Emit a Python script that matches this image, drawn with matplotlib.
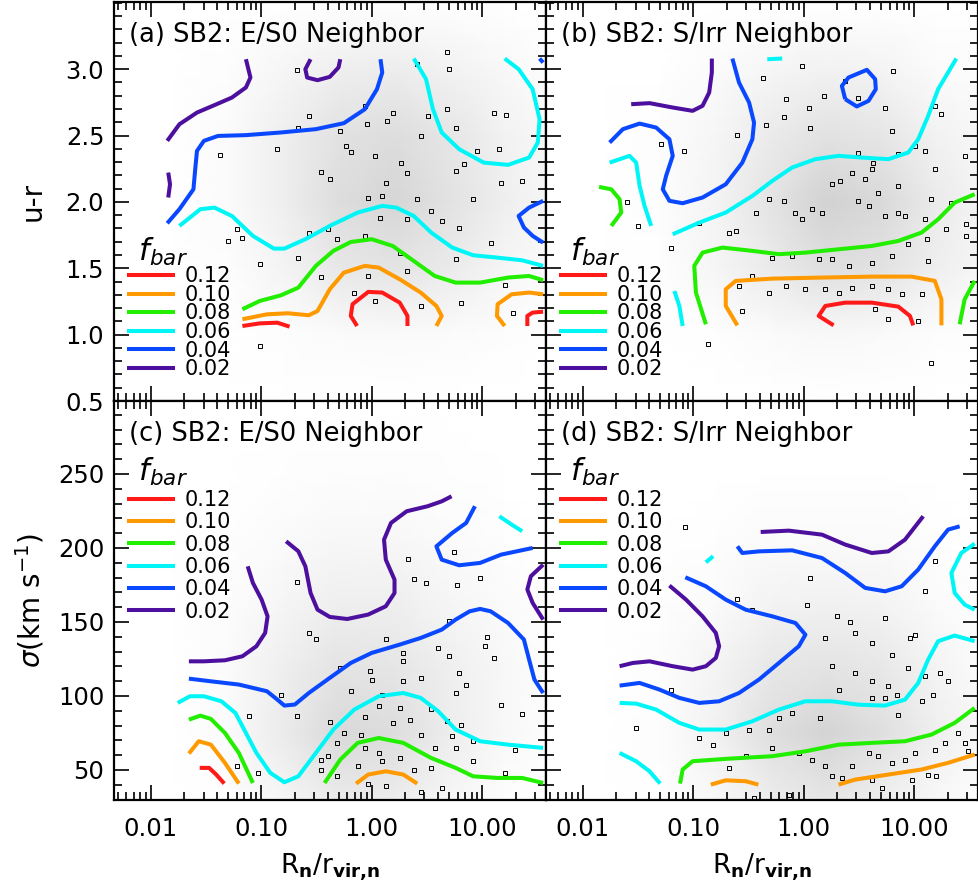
import numpy as np
import matplotlib.pyplot as plt
from matplotlib.colors import LinearSegmentedColormap
from matplotlib.lines import Line2D
from matplotlib.ticker import FixedLocator, MultipleLocator, LogLocator, NullFormatter, FuncFormatter

plt.rcParams['font.family'] = 'DejaVu Sans'
plt.rcParams['mathtext.fontset'] = 'dejavusans'

# contour levels of the bar fraction
levels = [0.12, 0.10, 0.08, 0.06, 0.04, 0.02]
level_colors = ['#ff1a1a', '#ff9900', '#22ee00', '#00f6f6', '#0a48ff', '#4d0f9e']

titles = ['(a) SB2: E/S0 Neighbor', '(b) SB2: S/Irr Neighbor',
          '(c) SB2: E/S0 Neighbor', '(d) SB2: S/Irr Neighbor']

# contour lines: (level, log10(Rn/rvir,n), y)
cont_a = [
    (0.02, [-1.851, -1.741, -1.582, -1.424, -1.266, -1.139, -1.098, -1.139],
           [2.460, 2.585, 2.673, 2.729, 2.786, 2.862, 2.937, 3.075]),
    (0.02, [-1.842, -1.826, -1.842], [2.221, 2.133, 2.033]),
    (0.02, [-0.554, -0.601, -0.585, -0.491, -0.380, -0.301, -0.285],
           [3.075, 3.000, 2.937, 2.917, 2.942, 3.013, 3.075]),
    (0.04, [-1.851, -1.741, -1.614, -1.598, -1.582, -1.519, -1.392, -1.139, -0.823,
            -0.506, -0.253, -0.063, 0.047, 0.095, 0.079],
           [1.839, 1.945, 2.095, 2.246, 2.384, 2.460, 2.497, 2.503, 2.523,
            2.548, 2.593, 2.698, 2.849, 2.975, 3.075]),
    (0.04, [1.551, 1.424, 1.329, 1.377, 1.456, 1.551],
           [2.008, 1.957, 1.894, 1.807, 1.744, 1.693]),
    (0.04, [1.519, 1.551], [3.080, 3.050]),
    (0.06, [-1.741, -1.551, -1.424, -1.266, -1.076, -0.886, -0.791, -0.601, -0.380, -0.127,
            0.095, 0.222, 0.380, 0.538, 0.728, 0.918, 1.139, 1.361, 1.551],
           [1.819, 1.945, 1.957, 1.894, 1.744, 1.648, 1.648, 1.719, 1.819, 1.920,
            1.970, 1.957, 1.894, 1.769, 1.656, 1.598, 1.580, 1.560, 1.518]),
    (0.06, [0.380, 0.491, 0.554, 0.633, 0.791, 1.013, 1.234, 1.424, 1.503, 1.519, 1.456, 1.329, 1.203],
           [3.080, 2.925, 2.698, 2.523, 2.397, 2.296, 2.279, 2.334, 2.447, 2.623, 2.849, 3.000, 3.080]),
    (0.08, [-1.171, -1.013, -0.823, -0.665, -0.506, -0.348, -0.190, 0.000, 0.190, 0.380,
            0.570, 0.759, 0.981, 1.234, 1.424, 1.551],
           [1.191, 1.254, 1.296, 1.354, 1.518, 1.631, 1.698, 1.719, 1.668, 1.555,
            1.442, 1.392, 1.392, 1.430, 1.442, 1.410]),
    (0.10, [-1.171, -0.949, -0.759, -0.570, -0.491, -0.380, -0.253, -0.063, 0.063, 0.253,
            0.443, 0.585, 0.633, 0.585],
           [1.116, 1.153, 1.161, 1.146, 1.178, 1.342, 1.467, 1.518, 1.505, 1.417,
            1.317, 1.216, 1.141, 1.065]),
    (0.10, [1.203, 1.133, 1.139, 1.266, 1.424, 1.551],
           [1.065, 1.141, 1.229, 1.304, 1.317, 1.304]),
    (0.12, [-1.171, -1.013, -0.854, -0.744], [1.065, 1.085, 1.090, 1.060]),
    (0.12, [-0.133, -0.190, -0.174, -0.032, 0.095, 0.253, 0.323, 0.323],
           [1.065, 1.141, 1.229, 1.322, 1.317, 1.241, 1.141, 1.065]),
    (0.12, [1.408, 1.408, 1.456, 1.551], [1.065, 1.141, 1.166, 1.173]),
]

cont_b = [
    (0.02, [-1.562, -1.396, -1.186, -1.006, -0.916, -0.856, -0.832, -0.832],
           [2.736, 2.744, 2.711, 2.686, 2.724, 2.824, 2.975, 3.080]),
    (0.04, [-1.757, -1.637, -1.486, -1.336, -1.216, -1.186, -1.246, -1.276, -1.216, -1.096,
            -0.916, -0.706, -0.556, -0.465, -0.450, -0.495, -0.586, -0.646],
           [2.447, 2.548, 2.590, 2.560, 2.472, 2.347, 2.196, 2.095, 2.008, 1.990,
            2.033, 2.133, 2.296, 2.472, 2.598, 2.749, 2.899, 3.080]),
    (0.04, [0.375, 0.345, 0.405, 0.571, 0.646, 0.652, 0.586, 0.480, 0.375],
           [2.774, 2.874, 2.937, 2.995, 2.925, 2.849, 2.761, 2.719, 2.774]),
    (0.06, [-0.330, -0.195], [3.075, 3.080]),
    (0.06, [-1.757, -1.577, -1.517, -1.486, -1.441, -1.381],
           [2.296, 2.347, 2.296, 2.121, 1.970, 1.819]),
    (0.06, [-1.186, -0.946, -0.706, -0.465, -0.285, -0.105, 0.105, 0.315, 0.526, 0.766,
            0.946, 1.036, 1.126, 1.216, 1.381],
           [1.756, 1.844, 1.920, 2.045, 2.158, 2.259, 2.322, 2.347, 2.334, 2.322,
            2.372, 2.472, 2.648, 2.849, 3.080]),
    (0.06, [-1.171, -1.126, -1.096], [1.329, 1.216, 1.065]),
    (0.08, [-1.853, -1.742, -1.667, -1.652, -1.742], [2.113, 2.095, 2.020, 1.920, 1.819]),
    (0.08, [-0.886, -0.976, -0.991, -0.916, -0.736, -0.465, -0.225, 0.015, 0.315, 0.616,
            0.856, 1.066, 1.216, 1.366, 1.547],
           [1.078, 1.317, 1.518, 1.618, 1.656, 1.631, 1.606, 1.618, 1.643, 1.668,
            1.706, 1.769, 1.869, 1.995, 2.058]),
    (0.08, [1.411, 1.456, 1.547], [1.078, 1.266, 1.405]),
    (0.10, [-0.601, -0.706, -0.706, -0.616, -0.285, 0.165, 0.616, 0.976, 1.186, 1.246, 1.246],
           [1.070, 1.216, 1.342, 1.405, 1.422, 1.430, 1.437, 1.437, 1.405, 1.266, 1.070]),
    (0.12, [0.270, 0.135, 0.195, 0.375, 0.616, 0.856, 0.961, 0.991],
           [1.070, 1.141, 1.216, 1.241, 1.241, 1.211, 1.141, 1.070]),
]

cont_c = [
    (0.02, [-1.123, -1.076, -0.997, -0.943, -0.965, -1.044, -1.171, -1.329, -1.519, -1.655],
           [187.6, 176.4, 165.1, 153.8, 142.6, 133.6, 126.8, 124.1, 123.4, 123.4]),
    (0.02, [-0.775, -0.665, -0.601, -0.554, -0.491, -0.380, -0.222, -0.032, 0.127, 0.206,
            0.206, 0.127, 0.111, 0.174, 0.316, 0.506, 0.633, 0.722],
           [204.5, 197.8, 187.6, 169.6, 158.3, 153.4, 152.0, 155.0, 160.6, 169.6,
            178.6, 192.1, 205.6, 216.9, 224.8, 228.2, 231.5, 234.9]),
    (0.02, [1.551, 1.440, 1.408, 1.456, 1.551], [188.7, 180.9, 171.9, 162.9, 151.6]),
    (0.04, [-1.655, -1.456, -1.203, -0.949, -0.854, -0.791, -0.696, -0.570, -0.380, -0.190,
            0.000, 0.253, 0.443, 0.633, 0.759, 0.886, 0.981, 1.076, 1.234, 1.377,
            1.424, 1.472, 1.551],
           [111.7, 109.9, 107.7, 103.2, 97.5, 93.5, 94.2, 102.0, 112.2, 122.3,
            129.1, 134.7, 139.2, 144.8, 151.6, 157.2, 158.8, 157.2, 149.3, 138.1,
            124.6, 111.1, 102.0]),
    (0.04, [0.934, 0.854, 0.728, 0.585, 0.633, 0.791, 0.981, 1.171, 1.456],
           [228.2, 216.9, 210.1, 201.1, 192.1, 188.3, 189.9, 195.5, 200.0]),
    (0.06, [-1.756, -1.646, -1.519, -1.361, -1.234, -1.139, -1.044, -0.918, -0.791, -0.665,
            -0.506, -0.348, -0.158, 0.063, 0.285, 0.443, 0.601, 0.759, 0.981, 1.234, 1.551],
           [95.3, 99.8, 99.8, 96.4, 88.5, 75.0, 61.5, 48.0, 41.7, 45.7,
            61.5, 77.3, 90.8, 99.8, 102.0, 98.7, 89.7, 77.3, 69.4, 67.1, 64.9]),
    (0.06, [1.155, 1.266, 1.361], [221.4, 215.8, 211.3]),
    (0.08, [-1.655, -1.551, -1.456, -1.329, -1.203, -1.076],
           [84.0, 86.7, 84.5, 75.0, 61.5, 41.2]),
    (0.08, [-0.427, -0.285, -0.127, 0.063, 0.285, 0.538, 0.759, 0.918, 1.139, 1.361, 1.551],
           [41.2, 57.0, 68.3, 71.6, 68.3, 58.1, 51.4, 45.7, 44.6, 44.6, 41.2]),
    (0.10, [-1.655, -1.566, -1.456, -1.329, -1.203], [61.1, 69.4, 67.1, 54.8, 40.8]),
    (0.10, [-0.142, -0.032, 0.127, 0.285, 0.411], [40.8, 46.9, 49.1, 46.9, 40.8]),
    (0.12, [-1.557, -1.472, -1.408, -1.335], [51.4, 51.4, 46.9, 40.8]),
]

cont_d = [
    (0.02, [-1.216, -1.066, -0.916, -0.796, -0.766, -0.796, -0.886, -1.006, -1.186, -1.396,
            -1.547, -1.667],
           [174.6, 165.1, 153.8, 142.6, 133.6, 125.7, 120.1, 117.8, 120.1, 123.4,
            122.3, 120.1]),
    (0.02, [-0.390, -0.135, 0.165, 0.375, 0.616, 0.766, 0.916, 1.081],
           [210.8, 211.7, 209.0, 202.3, 196.6, 197.7, 205.6, 221.4]),
    (0.04, [-0.601, -0.556, -0.405, -0.105, 0.165, 0.375, 0.556, 0.736, 0.886, 1.036,
            1.186, 1.306, 1.411],
           [201.1, 196.6, 197.7, 198.4, 193.2, 183.1, 173.0, 170.7, 174.1, 185.4,
            201.1, 212.4, 214.6]),
    (0.04, [-1.072, -0.886, -0.706, -0.526, -0.285, -0.075, 0.015, -0.045, -0.225, -0.405,
            -0.586, -0.766, -0.946, -1.126, -1.306, -1.486, -1.667],
           [180.2, 174.1, 165.1, 158.3, 153.8, 149.3, 141.4, 133.6, 122.3, 111.1,
            102.0, 96.4, 95.3, 98.7, 104.3, 108.8, 107.0]),
    (0.06, [-0.886, -0.820], [190.3, 194.4]),
    (0.06, [1.547, 1.426, 1.336, 1.366, 1.456, 1.547], [202.9, 196.6, 183.1, 169.6, 161.7, 158.3]),
    (0.06, [-1.667, -1.517, -1.336, -1.126, -0.946, -0.706, -0.465, -0.225, 0.015, 0.255,
            0.495, 0.736, 0.916, 1.036, 1.126, 1.216, 1.366, 1.547],
           [95.3, 94.8, 90.8, 81.8, 77.3, 77.3, 82.9, 90.8, 96.4, 96.4,
            94.1, 93.5, 97.5, 108.8, 124.6, 137.0, 140.8, 137.0]),
    (0.06, [-1.667, -1.517, -1.396, -1.300], [61.5, 55.9, 49.1, 40.8]),
    (0.08, [-1.120, -1.096, -1.006, -0.706, -0.285, 0.015, 0.315, 0.616, 0.916, 1.156,
            1.366, 1.547],
           [40.8, 50.3, 55.9, 57.5, 59.3, 62.6, 67.1, 68.3, 69.4, 73.9,
            81.8, 91.9]),
    (0.10, [-0.841, -0.706, -0.526, -0.411], [40.1, 43.0, 42.4, 40.1]),
    (0.10, [0.315, 0.465, 0.766, 1.066, 1.306, 1.547], [40.1, 43.5, 46.9, 50.3, 54.8, 60.4]),
]

# barred galaxies (open squares): (log10(Rn/rvir,n), y)
squares_a = [
    (-0.680, 2.992), (0.680, 3.126), (0.411, 3.038), (0.696, 3.005), (-0.063, 2.724),
    (0.190, 2.673), (-0.665, 2.553), (-0.854, 2.397), (-0.570, 2.648), (-0.285, 2.535),
    (-0.047, 2.585), (0.142, 2.611), (0.443, 2.497), (0.506, 2.648), (0.680, 2.698),
    (0.759, 2.560), (1.108, 2.673), (1.218, 2.653), (1.155, 2.402), (0.949, 2.384),
    (-0.237, 2.422), (-0.190, 2.377), (-0.380, 2.171), (-0.459, 2.229), (0.032, 2.347),
    (0.127, 2.146), (0.269, 2.296), (0.316, 2.221), (0.759, 2.234), (0.839, 2.284),
    (1.171, 2.146), (1.361, 2.158), (-0.032, 2.033), (0.095, 2.045), (0.411, 2.020),
    (0.538, 1.932), (0.918, 2.020), (0.791, 1.807), (0.316, 1.869), (0.079, 1.882),
    (-0.396, 1.794), (-0.316, 1.719), (-0.570, 1.769), (-0.063, 1.744), (0.633, 1.857),
    (1.076, 1.693), (-1.377, 2.354), (-1.297, 1.706), (-1.171, 1.731), (-1.218, 1.794),
    (-1.013, 1.535), (-0.665, 1.580), (-0.459, 1.435), (-0.032, 1.442), (0.316, 1.480),
    (0.759, 1.568), (-0.158, 1.317), (0.032, 1.254), (0.443, 1.216), (1.282, 1.166),
    (1.203, 1.374), (0.807, 1.241), (0.253, 1.618), (-1.013, 0.915),
]

squares_b = [
    (-0.015, 3.025), (-0.369, 2.937), (0.375, 2.912), (0.811, 2.987), (0.180, 2.799),
    (0.495, 2.779), (0.736, 2.711), (1.186, 2.724), (1.246, 2.661), (0.045, 2.711),
    (-0.165, 2.774), (-0.345, 2.580), (0.060, 2.560), (-0.180, 2.636), (-0.601, 2.503),
    (-1.291, 2.435), (-1.081, 2.384), (-1.598, 2.000), (-1.502, 1.819), (-1.201, 1.656),
    (-0.946, 1.844), (-0.871, 0.927), (1.156, 0.784), (-0.676, 1.769), (-0.616, 1.781),
    (-0.435, 1.920), (-0.315, 2.020), (-0.180, 2.008), (-0.075, 1.920), (-0.015, 1.869),
    (0.075, 1.945), (0.165, 1.920), (0.255, 2.133), (0.330, 2.158), (0.435, 2.221),
    (0.556, 2.171), (0.616, 2.246), (0.676, 2.070), (0.495, 2.008), (0.586, 1.970),
    (0.736, 1.894), (0.856, 1.920), (0.916, 1.894), (1.096, 1.869), (1.156, 2.020),
    (1.336, 1.995), (1.471, 1.832), (1.471, 1.744), (1.291, 1.794), (1.111, 1.719),
    (0.946, 1.681), (0.796, 1.593), (0.616, 1.543), (0.405, 1.518), (0.255, 1.568),
    (0.135, 1.568), (-0.105, 1.593), (-0.285, 1.580), (-0.465, 1.442), (-0.586, 1.367),
    (-0.315, 1.317), (-0.165, 1.367), (0.015, 1.342), (0.195, 1.342), (0.315, 1.317),
    (0.435, 1.354), (0.616, 1.367), (0.766, 1.342), (0.886, 1.304), (1.066, 1.304),
    (0.646, 1.191), (0.766, 1.121), (-0.556, 1.178), (1.036, 1.103), (1.126, 1.555),
    (0.856, 2.121), (0.495, 2.372), (0.631, 2.296), (0.796, 2.535), (1.006, 2.422),
    (0.856, 2.359), (1.186, 2.246), (1.096, 2.384), (1.456, 2.347),
]

squares_c = [
    (-0.680, 177.0), (0.332, 192.6), (0.380, 179.3), (0.491, 176.4), (0.775, 174.8),
    (0.981, 179.7), (0.744, 197.3), (0.696, 150.5), (1.044, 139.7), (1.028, 133.6),
    (1.108, 125.7), (1.171, 94.2), (1.361, 87.9), (1.297, 63.8), (1.203, 48.0),
    (0.918, 55.9), (0.759, 64.9), (0.633, 37.9), (0.443, 35.0), (0.127, 39.0),
    (-0.032, 40.8), (-0.570, 142.6), (-0.506, 138.5), (-0.823, 100.9), (-0.680, 86.7),
    (-1.108, 86.7), (-1.218, 52.5), (-1.028, 48.0), (0.127, 138.5), (0.285, 129.1),
    (0.285, 123.4), (-0.016, 116.7), (0.000, 111.1), (-0.285, 118.9), (-0.190, 103.6),
    (0.095, 100.9), (0.285, 109.9), (0.443, 112.2), (0.601, 132.4), (0.696, 126.8),
    (0.759, 102.0), (0.854, 107.7), (0.791, 115.6), (0.538, 91.2), (0.253, 91.9),
    (0.063, 93.0), (-0.063, 85.8), (-0.380, 82.2), (-0.253, 75.0), (-0.095, 73.9),
    (0.190, 81.8), (0.348, 84.0), (0.443, 73.9), (0.570, 64.9), (0.728, 72.8),
    (0.063, 61.5), (-0.063, 64.9), (0.095, 55.9), (0.253, 58.1), (-0.316, 68.3),
    (-0.396, 59.3), (-0.459, 57.0), (-0.459, 50.3), (-0.316, 45.7), (-0.127, 52.5),
    (0.380, 50.3), (0.538, 51.4), (0.918, 69.4), (0.807, 80.6), (0.680, 82.9),
]

squares_d = [
    (-1.075, 214.0), (-0.601, 165.6), (-0.465, 158.3), (0.030, 161.7), (0.060, 179.7),
    (1.186, 191.4), (1.096, 171.2), (0.300, 153.8), (0.420, 149.8), (0.736, 152.7),
    (0.961, 139.2), (1.006, 141.5), (0.796, 127.9), (0.616, 135.8), (0.465, 142.6),
    (0.195, 139.2), (0.255, 120.1), (0.465, 115.6), (0.616, 109.9), (0.766, 106.5),
    (0.841, 100.9), (0.946, 118.9), (1.096, 113.3), (1.231, 115.6), (1.306, 109.9),
    (1.171, 100.9), (1.066, 96.4), (0.856, 87.4), (0.736, 98.7), (0.616, 98.7),
    (0.315, 104.3), (0.150, 85.2), (-0.105, 88.5), (-0.225, 85.2), (-0.315, 77.3),
    (-0.495, 77.3), (-0.706, 75.0), (-0.826, 67.1), (-0.946, 71.6), (-1.517, 78.4),
    (-1.201, 104.3), (-0.676, 51.4), (-0.526, 59.3), (-0.285, 64.9), (-0.045, 61.5),
    (0.075, 57.0), (0.195, 52.5), (0.255, 45.7), (0.345, 44.6), (0.435, 52.5),
    (0.586, 61.5), (0.676, 59.3), (0.796, 54.8), (0.916, 57.0), (1.006, 61.5),
    (1.186, 63.8), (1.276, 68.3), (1.396, 75.0), (1.456, 68.3), (1.486, 62.6),
    (1.201, 45.7), (1.126, 46.9), (0.616, 43.5), (0.706, 37.9), (-0.450, 31.1),
    (-0.135, 33.4), (0.976, 43.5),
]

# relative density of all (unbarred) galaxies on a coarse grid
grid_logx = [-2.35, -1.8, -1.3, -0.8, -0.3, 0.2, 0.7, 1.2, 1.6]
grid_ur = [0.5, 1.0, 1.5, 2.0, 2.5, 3.0, 3.5]
grid_sigma = [30, 75, 120, 165, 210, 255, 300]

dens_a = [
    [0, 0, 0, 0, 0, 0, 0, 0, 0],
    [0, 0, 0, 0.05, 0.10, 0.12, 0.08, 0.04, 0],
    [0, 0, 0.05, 0.25, 0.50, 0.60, 0.45, 0.20, 0.10],
    [0, 0, 0.10, 0.35, 0.75, 0.90, 0.65, 0.35, 0.20],
    [0, 0, 0.10, 0.35, 0.65, 0.75, 0.55, 0.30, 0.15],
    [0, 0, 0.05, 0.20, 0.35, 0.40, 0.30, 0.15, 0.05],
    [0, 0, 0, 0, 0.02, 0.02, 0.02, 0, 0],
]
dens_b = [
    [0, 0, 0, 0, 0, 0, 0, 0, 0],
    [0, 0, 0, 0.03, 0.10, 0.15, 0.12, 0.05, 0.02],
    [0, 0, 0.03, 0.20, 0.45, 0.70, 0.65, 0.35, 0.20],
    [0, 0, 0.05, 0.25, 0.60, 1.00, 0.85, 0.45, 0.25],
    [0, 0, 0.05, 0.20, 0.45, 0.65, 0.55, 0.30, 0.15],
    [0, 0, 0, 0.10, 0.20, 0.30, 0.25, 0.10, 0.05],
    [0, 0, 0, 0, 0, 0, 0, 0, 0],
]
dens_c = [
    [0, 0, 0.02, 0.20, 0.45, 0.40, 0.20, 0.05, 0],
    [0, 0, 0.10, 0.45, 0.85, 0.75, 0.40, 0.15, 0.05],
    [0, 0, 0.10, 0.35, 0.60, 0.55, 0.35, 0.15, 0.05],
    [0, 0, 0.05, 0.20, 0.35, 0.35, 0.20, 0.08, 0.02],
    [0, 0, 0.02, 0.08, 0.15, 0.15, 0.10, 0.03, 0],
    [0, 0, 0, 0.02, 0.04, 0.04, 0.02, 0, 0],
    [0, 0, 0, 0, 0, 0, 0, 0, 0],
]
dens_d = [
    [0, 0, 0.02, 0.15, 0.40, 0.55, 0.35, 0.15, 0.05],
    [0, 0, 0.05, 0.30, 0.70, 0.95, 0.70, 0.35, 0.15],
    [0, 0, 0.05, 0.25, 0.50, 0.60, 0.50, 0.25, 0.10],
    [0, 0, 0.02, 0.10, 0.25, 0.30, 0.25, 0.10, 0.03],
    [0, 0, 0, 0.03, 0.08, 0.10, 0.08, 0.03, 0],
    [0, 0, 0, 0, 0, 0, 0, 0, 0],
    [0, 0, 0, 0, 0, 0, 0, 0, 0],
]

haze = LinearSegmentedColormap.from_list('haze', ['#ffffff', '#d2d2d2'])


def draw_panel(ax, dens, grid_y, squares, contours):
    X, Y = np.meshgrid(10 ** np.array(grid_logx), grid_y)
    ax.pcolormesh(X, Y, np.array(dens), cmap=haze, vmin=0, vmax=1,
                  shading='gouraud', zorder=0, rasterized=True)
    sx, sy = zip(*squares)
    ax.plot(10 ** np.array(sx), sy, 's', ms=2.6, mfc='none', mec='k', mew=0.7, zorder=2)
    for lev, lx, ly in contours:
        ax.plot(10 ** np.array(lx), ly, color=level_colors[levels.index(lev)], lw=2.9,
                zorder=3, solid_capstyle='butt', solid_joinstyle='round')


fig = plt.figure(figsize=(9.79, 8.86), dpi=100)
W, H = 979.0, 886.0
pw, ph = 432 / W, 399 / H
ax_a = fig.add_axes([114 / W, (886 - 401) / H, pw, ph])
ax_b = fig.add_axes([546 / W, (886 - 401) / H, pw, ph])
ax_c = fig.add_axes([114 / W, (886 - 800) / H, pw, ph])
ax_d = fig.add_axes([546 / W, (886 - 800) / H, pw, ph])
axes = [ax_a, ax_b, ax_c, ax_d]

draw_panel(ax_a, dens_a, grid_ur, squares_a, cont_a)
draw_panel(ax_b, dens_b, grid_ur, squares_b, cont_b)
draw_panel(ax_c, dens_c, grid_sigma, squares_c, cont_c)
draw_panel(ax_d, dens_d, grid_sigma, squares_d, cont_d)

handles = [Line2D([], [], color=c, lw=2.9) for c in level_colors]
labels = ['%.2f' % l for l in levels]

for i, ax in enumerate(axes):
    top = i < 2
    ax.set_xscale('log')
    ax.set_xlim(10 ** -2.333, 10 ** 1.577)
    if top:
        ax.set_ylim(0.5, 3.506)
        ax.yaxis.set_major_locator(FixedLocator([0.5, 1.0, 1.5, 2.0, 2.5, 3.0]))
        ax.yaxis.set_minor_locator(MultipleLocator(0.1))
        ax.yaxis.set_major_formatter(FuncFormatter(lambda v, p: '%.1f' % v))
    else:
        ax.set_ylim(29.7, 299.3)
        ax.yaxis.set_major_locator(FixedLocator([50, 100, 150, 200, 250]))
        ax.yaxis.set_minor_locator(MultipleLocator(10))
        ax.yaxis.set_major_formatter(FuncFormatter(lambda v, p: '%d' % v))
    ax.xaxis.set_major_locator(FixedLocator([0.01, 0.1, 1, 10]))
    ax.xaxis.set_minor_locator(LogLocator(base=10, subs=np.arange(2, 10)))
    ax.xaxis.set_minor_formatter(NullFormatter())
    ax.xaxis.set_major_formatter(FuncFormatter(lambda v, p: '%.2f' % v))
    ax.tick_params(which='both', direction='in', top=True, right=True, width=1.2,
                   labelsize=17.5)
    ax.tick_params(which='major', length=11)
    ax.tick_params(which='minor', length=6)
    ax.tick_params(axis='x', pad=12)
    ax.tick_params(axis='y', pad=7)
    if top:
        ax.tick_params(axis='x', labelbottom=False)
    if i % 2 == 1:
        ax.tick_params(axis='y', labelleft=False)
    for s in ax.spines.values():
        s.set_linewidth(1.6)
    ax.text(0.035, 0.9, titles[i], transform=ax.transAxes, fontsize=18.5,
            va='baseline', ha='left', zorder=5)
    if top:
        leg = ax.legend(handles, labels, title=r' $f_{bar}$', loc='lower left',
                        bbox_to_anchor=(0.035, 0.055), frameon=False, fontsize=15,
                        title_fontsize=22, handlelength=2.1, handletextpad=0.55,
                        labelspacing=-0.07, borderpad=0, borderaxespad=0,
                        alignment='left')
    else:
        leg = ax.legend(handles, labels, title=r' $f_{bar}$', loc='upper left',
                        bbox_to_anchor=(0.035, 0.863), frameon=False, fontsize=15,
                        title_fontsize=22, handlelength=2.1, handletextpad=0.55,
                        labelspacing=0.11, borderpad=0, borderaxespad=0,
                        alignment='left')
    leg.set_zorder(6)

ax_a.set_ylabel('u-r', fontsize=20, labelpad=14)
ax_c.set_ylabel(r'$\sigma$(km s$^{-1}$)', fontsize=20, labelpad=8)
ax_c.set_xlabel(r'R$_\mathbf{n}$/r$_\mathbf{vir{,}n}$', fontsize=19, labelpad=8)
ax_d.set_xlabel(r'R$_\mathbf{n}$/r$_\mathbf{vir{,}n}$', fontsize=19, labelpad=8)

fig.savefig('out.png', dpi=100)
